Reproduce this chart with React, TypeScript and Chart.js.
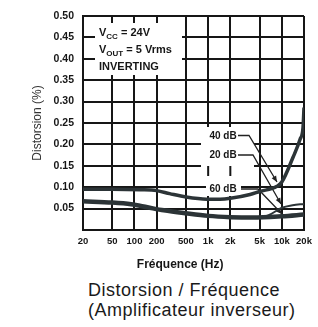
import React, { useEffect, useRef } from 'react';
import { Chart, registerables } from 'chart.js';

Chart.register(...registerables);

// ---- axis ticks ----
const xTickValues = [20, 50, 100, 200, 500, 1000, 2000, 5000, 10000, 20000];
const xTickLabels = ['20', '50', '100', '200', '500', '1k', '2k', '5k', '10k', '20k'];
const yMin = 0;
const yMax = 0.5;
const yStep = 0.05;

// ---- series (frequency in Hz, distortion in %) ----
const freq40 = [20, 50, 120, 200, 300, 500, 960, 1450, 2000, 3700, 5000, 8600, 10000, 14200, 17700, 19400, 20000];
const dist40 = [0.095, 0.095, 0.094, 0.092, 0.085, 0.077, 0.072, 0.072, 0.074, 0.083, 0.09, 0.102, 0.112, 0.17, 0.212, 0.24, 0.286];

const freq20 = [20, 50, 90, 150, 250, 500, 1000, 2000, 4000, 6500, 10000, 14000, 20000];
const dist20 = [0.067, 0.064, 0.06, 0.053, 0.046, 0.039, 0.033, 0.03, 0.029, 0.034, 0.052, 0.058, 0.061];

const freq60 = [20, 50, 90, 150, 250, 500, 1000, 2000, 4000, 10000, 20000];
const dist60 = [0.067, 0.064, 0.06, 0.053, 0.046, 0.039, 0.033, 0.03, 0.029, 0.032, 0.036];

const curveLabels = ['40 dB', '20 dB', '60 dB'];
const conditionMain = ['V', 'V', 'INVERTING'];
const conditionSub = ['CC', 'OUT', ''];
const conditionRest = [' = 24V', ' = 5 Vrms', ''];

const caption = ['Distorsion / Fréquence', '(Amplificateur inverseur)'];
const xTitle = 'Fréquence (Hz)';
const yTitle = 'Distorsion (%)';

const FONT = 'Liberation Sans, Arial, sans-serif';
const INK = '#161616';
const CURVE = '#2c3437';

function toPoints(f: number[], d: number[]) {
  return f.map((v, i) => ({ x: v, y: d[i] }));
}

function arrow(ctx: CanvasRenderingContext2D, pts: number[][]) {
  ctx.beginPath();
  ctx.moveTo(pts[0][0], pts[0][1]);
  for (let i = 1; i < pts.length; i++) ctx.lineTo(pts[i][0], pts[i][1]);
  ctx.stroke();
  const [x0, y0] = pts[pts.length - 2];
  const [x1, y1] = pts[pts.length - 1];
  const a = Math.atan2(y1 - y0, x1 - x0);
  const len = 6;
  const w = 2.6;
  ctx.beginPath();
  ctx.moveTo(x1, y1);
  ctx.lineTo(x1 - len * Math.cos(a) + w * Math.sin(a), y1 - len * Math.sin(a) - w * Math.cos(a));
  ctx.lineTo(x1 - len * Math.cos(a) - w * Math.sin(a), y1 - len * Math.sin(a) + w * Math.cos(a));
  ctx.closePath();
  ctx.fill();
}

const annotate = {
  id: 'annotate',
  beforeDatasetsDraw(chart: any) {
    const { ctx, chartArea: ca, scales } = chart;
    const L = ca.left;
    const T = ca.top;
    ctx.save();

    // conditions box
    ctx.fillStyle = '#fff';
    ctx.fillRect(L + 12, T + 7, 87, 52);
    ctx.fillStyle = INK;
    ctx.textAlign = 'left';
    ctx.textBaseline = 'alphabetic';
    for (let i = 0; i < conditionMain.length; i++) {
      let x = L + 16;
      const y = T + 20 + i * 17;
      ctx.font = `bold 11px ${FONT}`;
      ctx.fillText(conditionMain[i], x, y);
      x += ctx.measureText(conditionMain[i]).width;
      if (conditionSub[i]) {
        ctx.font = `bold 8px ${FONT}`;
        ctx.fillText(conditionSub[i], x, y + 2.5);
        x += ctx.measureText(conditionSub[i]).width;
      }
      if (conditionRest[i]) {
        ctx.font = `bold 11px ${FONT}`;
        ctx.fillText(conditionRest[i], x, y);
      }
    }

    // curve labels area
    ctx.fillStyle = '#fff';
    ctx.fillRect(L + 118, T + 111, 53, 55);
    ctx.fillRect(L + 123, T + 166, 35, 14);

    ctx.strokeStyle = INK;
    ctx.lineWidth = 2;
    for (const f of [1000, 2000]) {
      const x = scales.x.getPixelForValue(f);
      ctx.beginPath();
      ctx.moveTo(x, T + 150);
      ctx.lineTo(x, T + 160);
      ctx.stroke();
    }

    ctx.fillStyle = INK;
    ctx.font = `bold 10px ${FONT}`;
    ctx.textAlign = 'center';
    ctx.textBaseline = 'middle';
    const ly = [T + 120, T + 139, T + 173];
    curveLabels.forEach((t, i) => ctx.fillText(t, L + 140, ly[i]));

    ctx.lineWidth = 1.3;
    ctx.strokeStyle = '#222';
    ctx.fillStyle = '#222';
    arrow(ctx, [[L + 155, T + 119.5], [L + 166, T + 119.5], [L + 194, T + 166]]);
    arrow(ctx, [[L + 155, T + 139], [L + 170, T + 139], [L + 198, T + 188]]);
    arrow(ctx, [[L + 158, T + 173], [L + 175, T + 173], [L + 199, T + 198]]);

    ctx.restore();
  },
};

export default function App() {
  const ref = useRef<HTMLCanvasElement>(null);

  useEffect(() => {
    if (!ref.current) return;
    const chart = new Chart(ref.current, {
      type: 'line',
      data: {
        datasets: [
          {
            label: curveLabels[1],
            data: toPoints(freq20, dist20),
            borderColor: CURVE,
            borderWidth: 2,
            pointRadius: 0,
            cubicInterpolationMode: 'monotone',
            fill: false,
          },
          {
            label: curveLabels[2],
            data: toPoints(freq60, dist60),
            borderColor: CURVE,
            borderWidth: 4.5,
            pointRadius: 0,
            cubicInterpolationMode: 'monotone',
            fill: false,
          },
          {
            label: curveLabels[0],
            data: toPoints(freq40, dist40),
            borderColor: CURVE,
            borderWidth: 3.5,
            pointRadius: 0,
            cubicInterpolationMode: 'monotone',
            fill: false,
          },
        ],
      },
      options: {
        animation: false,
        responsive: true,
        maintainAspectRatio: false,
        layout: { padding: { left: 0, right: 14, top: 16, bottom: 0 } },
        plugins: {
          legend: { display: false },
          tooltip: { enabled: false },
        },
        scales: {
          x: {
            type: 'logarithmic',
            min: 20,
            max: 20000,
            afterBuildTicks: (axis: any) => {
              axis.ticks = xTickValues.map((v) => ({ value: v }));
            },
            afterFit: (axis: any) => {
              axis.height = 50;
            },
            grid: { color: INK, lineWidth: 2, drawTicks: false },
            border: { color: INK, width: 2 },
            ticks: {
              autoSkip: false,
              maxRotation: 0,
              padding: 6,
              color: INK,
              font: { family: FONT, size: 9.5, weight: 'bold' },
              callback: (v: any) => {
                const i = xTickValues.indexOf(Number(v));
                return i >= 0 ? xTickLabels[i] : '';
              },
            },
            title: {
              display: true,
              text: xTitle + '        ',
              color: INK,
              font: { family: FONT, size: 12, weight: 'bold' },
              padding: { top: 0, bottom: 8 },
            },
          },
          y: {
            type: 'linear',
            min: yMin,
            max: yMax,
            afterFit: (axis: any) => {
              axis.width = 83;
            },
            grid: { color: INK, lineWidth: 2, drawTicks: false },
            border: { color: INK, width: 2 },
            ticks: {
              stepSize: yStep,
              padding: 9,
              color: INK,
              font: { family: FONT, size: 10.5, weight: 'bold' },
              callback: (v: any) => (Number(v) < 0.001 ? '' : Number(v).toFixed(2)),
            },
            title: {
              display: true,
              text: yTitle,
              color: '#333',
              font: { family: FONT, size: 12 },
              padding: { top: 30, bottom: 0 },
            },
          },
        },
      },
      plugins: [annotate],
    } as any);
    return () => chart.destroy();
  }, []);

  return (
    <div style={{ position: 'absolute', left: 0, top: 0, width: 318, height: 327, background: '#fff' }}>
      <div style={{ position: 'absolute', left: 0, top: 0, width: 318, height: 280 }}>
        <canvas ref={ref} />
      </div>
      <div
        style={{
          position: 'absolute',
          left: 88,
          top: 280,
          fontFamily: FONT,
          fontSize: 18,
          lineHeight: '20px',
          letterSpacing: '0.5px',
          color: '#1a1a1a',
          whiteSpace: 'nowrap',
        }}
      >
        <div>{caption[0]}</div>
        <div>{caption[1]}</div>
      </div>
    </div>
  );
}
